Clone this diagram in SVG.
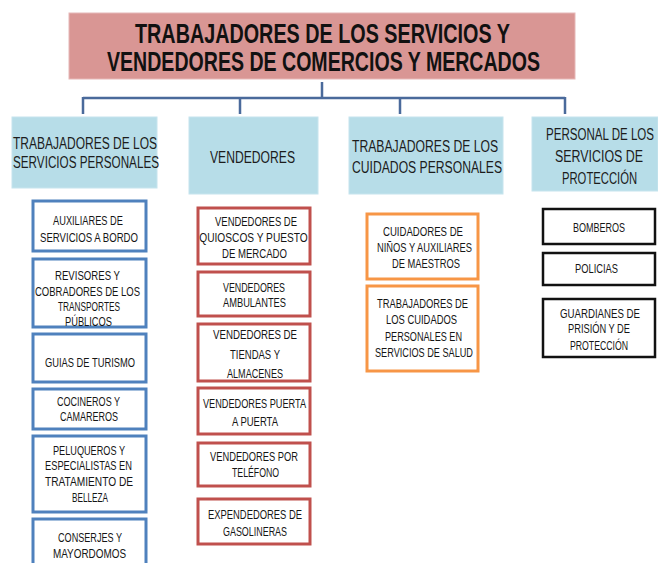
<svg xmlns="http://www.w3.org/2000/svg" width="658" height="563" viewBox="0 0 658 563">
<style>
text{font-family:"Liberation Sans",Arial,sans-serif;fill:#1c1c1c;text-anchor:middle}
.t{font-size:27px;font-weight:bold;fill:#111}
.h{font-size:17px}
.s{font-size:12.5px;fill:#151515}
.hb{fill:#B7DDE8;stroke:#C6E4EE;stroke-width:1}
.b1{fill:#fff;stroke:#4F81BD;stroke-width:3}
.b2{fill:#fff;stroke:#C0504D;stroke-width:3}
.b3{fill:#fff;stroke:#F79646;stroke-width:3}
.b4{fill:#fff;stroke:#111;stroke-width:2.5}
.c{fill:none;stroke:#4A6A9B;stroke-width:2.5}
</style>
<rect width="658" height="563" fill="#fff"/>
<g id="connectors">
<path class="c" d="M322 82V98M83 98H565M83 97V114M240 97V114M400 97V114M565 97V114"/>
</g>
<g id="title">
<rect x="69" y="13" width="506" height="66" fill="#D99694" stroke="#E6B8B7" stroke-width="1"/>
<text class="t" transform="translate(322.5 42.5) scale(0.7 1)" textLength="535.7" lengthAdjust="spacingAndGlyphs">TRABAJADORES DE LOS SERVICIOS Y</text>
<text class="t" transform="translate(323.5 71) scale(0.7 1)" textLength="618.6" lengthAdjust="spacingAndGlyphs">VENDEDORES DE COMERCIOS Y MERCADOS</text>
</g>
<g id="h1">
<rect class="hb" x="12" y="117" width="145" height="71"/>
<text class="h" transform="translate(85 149) scale(0.72 1)" textLength="200" lengthAdjust="spacingAndGlyphs">TRABAJADORES DE LOS</text>
<text class="h" transform="translate(86 168) scale(0.72 1)" textLength="202.8" lengthAdjust="spacingAndGlyphs">SERVICIOS PERSONALES</text>
</g>
<g id="h2">
<rect class="hb" x="189" y="117" width="129" height="77"/>
<text class="h" transform="translate(252.5 163) scale(0.72 1)" textLength="118" lengthAdjust="spacingAndGlyphs">VENDEDORES</text>
</g>
<g id="h3">
<rect class="hb" x="349" y="117" width="154" height="77"/>
<text class="h" transform="translate(425 152) scale(0.72 1)" textLength="202.8" lengthAdjust="spacingAndGlyphs">TRABAJADORES DE LOS</text>
<text class="h" transform="translate(427 173) scale(0.72 1)" textLength="208.3" lengthAdjust="spacingAndGlyphs">CUIDADOS PERSONALES</text>
</g>
<g id="h4">
<rect class="hb" x="532" y="117" width="126" height="74"/>
<text class="h" transform="translate(600 140) scale(0.72 1)" textLength="150" lengthAdjust="spacingAndGlyphs">PERSONAL DE LOS</text>
<text class="h" transform="translate(599 162) scale(0.72 1)" textLength="122.2" lengthAdjust="spacingAndGlyphs">SERVICIOS DE</text>
<text class="h" transform="translate(599.5 184) scale(0.72 1)" textLength="104.2" lengthAdjust="spacingAndGlyphs">PROTECCIÓN</text>
</g>
<g id="c1n1">
<rect class="b1" x="33" y="201" width="113" height="50"/>
<text class="s" transform="translate(88 225) scale(0.78 1)" textLength="89.7" lengthAdjust="spacingAndGlyphs">AUXILIARES DE</text>
<text class="s" transform="translate(89 241.7) scale(0.78 1)" textLength="125.6" lengthAdjust="spacingAndGlyphs">SERVICIOS A BORDO</text>
</g>
<g id="c1n2">
<rect class="b1" x="33" y="259" width="113" height="68"/>
<text class="s" transform="translate(87.5 280) scale(0.78 1)" textLength="83.3" lengthAdjust="spacingAndGlyphs">REVISORES Y</text>
<text class="s" transform="translate(87.5 295.7) scale(0.78 1)" textLength="134.6" lengthAdjust="spacingAndGlyphs">COBRADORES DE LOS</text>
<text class="s" transform="translate(89 311) scale(0.78 1)" textLength="79.5" lengthAdjust="spacingAndGlyphs">TRANSPORTES</text>
<text class="s" transform="translate(88.5 325.7) scale(0.78 1)" textLength="60.3" lengthAdjust="spacingAndGlyphs">PÚBLICOS</text>
</g>
<g id="c1n3">
<rect class="b1" x="33" y="334" width="113" height="48"/>
<text class="s" transform="translate(90 366.7) scale(0.78 1)" textLength="115.4" lengthAdjust="spacingAndGlyphs">GUIAS DE TURISMO</text>
</g>
<g id="c1n4">
<rect class="b1" x="33" y="389" width="113" height="40"/>
<text class="s" transform="translate(88.5 406) scale(0.78 1)" textLength="80.8" lengthAdjust="spacingAndGlyphs">COCINEROS Y</text>
<text class="s" transform="translate(89 421) scale(0.78 1)" textLength="74.4" lengthAdjust="spacingAndGlyphs">CAMAREROS</text>
</g>
<g id="c1n5">
<rect class="b1" x="33" y="436" width="113" height="76"/>
<text class="s" transform="translate(89 455) scale(0.78 1)" textLength="92.3" lengthAdjust="spacingAndGlyphs">PELUQUEROS Y</text>
<text class="s" transform="translate(88.5 470) scale(0.78 1)" textLength="111.5" lengthAdjust="spacingAndGlyphs">ESPECIALISTAS  EN</text>
<text class="s" transform="translate(89 486) scale(0.78 1)" textLength="112.8" lengthAdjust="spacingAndGlyphs">TRATAMIENTO  DE</text>
<text class="s" transform="translate(90 501.7) scale(0.78 1)" textLength="46.2" lengthAdjust="spacingAndGlyphs">BELLEZA</text>
</g>
<g id="c1n6">
<rect class="b1" x="33" y="519" width="113" height="60"/>
<text class="s" transform="translate(90 541.7) scale(0.78 1)" textLength="82.1" lengthAdjust="spacingAndGlyphs">CONSERJES Y</text>
<text class="s" transform="translate(89.5 558.3) scale(0.78 1)" textLength="93.6" lengthAdjust="spacingAndGlyphs">MAYORDOMOS</text>
</g>
<g id="c2n1">
<rect class="b2" x="198" y="208" width="112" height="56"/>
<text class="s" transform="translate(256 225.7) scale(0.78 1)" textLength="105.1" lengthAdjust="spacingAndGlyphs">VENDEDORES  DE</text>
<text class="s" transform="translate(253.5 241.7) scale(0.78 1)" textLength="139" lengthAdjust="spacingAndGlyphs">QUIOSCOS Y PUESTO</text>
<text class="s" transform="translate(254.5 257.7) scale(0.78 1)" textLength="83.3" lengthAdjust="spacingAndGlyphs">DE MERCADO</text>
</g>
<g id="c2n2">
<rect class="b2" x="198" y="272" width="112" height="44"/>
<text class="s" transform="translate(254 291.7) scale(0.78 1)" textLength="79.5" lengthAdjust="spacingAndGlyphs">VENDEDORES</text>
<text class="s" transform="translate(254.5 306.7) scale(0.78 1)" textLength="80.8" lengthAdjust="spacingAndGlyphs">AMBULANTES</text>
</g>
<g id="c2n3">
<rect class="b2" x="198" y="324" width="112" height="57"/>
<text class="s" transform="translate(255 339.3) scale(0.78 1)" textLength="107.7" lengthAdjust="spacingAndGlyphs">VENDEDORES  DE</text>
<text class="s" transform="translate(255 359) scale(0.78 1)" textLength="64.1" lengthAdjust="spacingAndGlyphs">TIENDAS Y</text>
<text class="s" transform="translate(255 378.3) scale(0.78 1)" textLength="71.8" lengthAdjust="spacingAndGlyphs">ALMACENES</text>
</g>
<g id="c2n4">
<rect class="b2" x="198" y="388" width="112" height="46"/>
<text class="s" transform="translate(254.5 408.3) scale(0.78 1)" textLength="132.1" lengthAdjust="spacingAndGlyphs">VENDEDORES  PUERTA</text>
<text class="s" transform="translate(255 426) scale(0.78 1)" textLength="59" lengthAdjust="spacingAndGlyphs">A PUERTA</text>
</g>
<g id="c2n5">
<rect class="b2" x="198" y="443" width="112" height="43"/>
<text class="s" transform="translate(254 461) scale(0.78 1)" textLength="112.8" lengthAdjust="spacingAndGlyphs">VENDEDORES  POR</text>
<text class="s" transform="translate(255.5 476.7) scale(0.78 1)" textLength="60.3" lengthAdjust="spacingAndGlyphs">TELÉFONO</text>
</g>
<g id="c2n6">
<rect class="b2" x="198" y="499" width="112" height="45"/>
<text class="s" transform="translate(255 519.3) scale(0.78 1)" textLength="120.5" lengthAdjust="spacingAndGlyphs">EXPENDEDORES  DE</text>
<text class="s" transform="translate(255 536) scale(0.78 1)" textLength="82.1" lengthAdjust="spacingAndGlyphs">GASOLINERAS</text>
</g>
<g id="c3n1">
<rect class="b3" x="367" y="214" width="111" height="65"/>
<text class="s" transform="translate(423 235.7) scale(0.78 1)" textLength="102.6" lengthAdjust="spacingAndGlyphs">CUIDADORES  DE</text>
<text class="s" transform="translate(424.5 252.3) scale(0.78 1)" textLength="121.8" lengthAdjust="spacingAndGlyphs">NIÑOS Y AUXILIARES</text>
<text class="s" transform="translate(426 268.3) scale(0.78 1)" textLength="87.2" lengthAdjust="spacingAndGlyphs">DE MAESTROS</text>
</g>
<g id="c3n2">
<rect class="b3" x="367" y="286" width="111" height="85"/>
<text class="s" transform="translate(422.5 307.7) scale(0.78 1)" textLength="116.7" lengthAdjust="spacingAndGlyphs">TRABAJADORES  DE</text>
<text class="s" transform="translate(421.5 324) scale(0.78 1)" textLength="91" lengthAdjust="spacingAndGlyphs">LOS CUIDADOS</text>
<text class="s" transform="translate(423.5 340.7) scale(0.78 1)" textLength="98.7" lengthAdjust="spacingAndGlyphs">PERSONALES  EN</text>
<text class="s" transform="translate(424 356.7) scale(0.78 1)" textLength="125.6" lengthAdjust="spacingAndGlyphs">SERVICIOS  DE SALUD</text>
</g>
<g id="c4n1">
<rect class="b4" x="543" y="209" width="112" height="35"/>
<text class="s" transform="translate(599 231.7) scale(0.78 1)" textLength="66.7" lengthAdjust="spacingAndGlyphs">BOMBEROS</text>
</g>
<g id="c4n2">
<rect class="b4" x="543" y="253" width="112" height="32"/>
<text class="s" transform="translate(596.5 273.3) scale(0.78 1)" textLength="55.1" lengthAdjust="spacingAndGlyphs">POLICIAS</text>
</g>
<g id="c4n3">
<rect class="b4" x="543" y="299" width="112" height="58"/>
<text class="s" transform="translate(600 317.7) scale(0.78 1)" textLength="102.6" lengthAdjust="spacingAndGlyphs">GUARDIANES  DE</text>
<text class="s" transform="translate(599 333.3) scale(0.78 1)" textLength="79.5" lengthAdjust="spacingAndGlyphs">PRISIÓN Y DE</text>
<text class="s" transform="translate(599 350) scale(0.78 1)" textLength="74.4" lengthAdjust="spacingAndGlyphs">PROTECCIÓN</text>
</g>
</svg>
